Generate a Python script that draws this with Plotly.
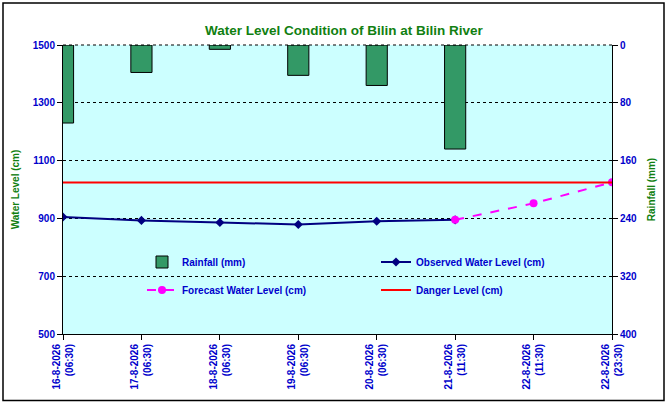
import plotly.graph_objects as go

# station data
dates = ["16-8-2026<br>(06:30)", "17-8-2026<br>(06:30)", "18-8-2026<br>(06:30)",
         "19-8-2026<br>(06:30)", "20-8-2026<br>(06:30)", "21-8-2026<br>(11:30)",
         "22-8-2026<br>(11:30)", "22-8-2026<br>(23:30)"]
rainfall = [108, 38, 6, 42, 56, 144, None, None]
observed = [905, 893, 886, 879, 890, 895, None, None]
forecast = [None, None, None, None, None, 895, 952, 1025]
danger = [1024] * 8

blue = "#0000CC"
green = "#118011"
fnt = dict(family="Liberation Sans, Arial", size=10, color=blue, weight="bold")

fig = go.Figure()
fig.add_trace(go.Bar(x=dates, y=rainfall, name="Rainfall (mm)", yaxis="y2", width=0.27,
                     marker=dict(color="#339966", line=dict(color="black", width=1)),
                     legend="legend"))
fig.add_trace(go.Scatter(x=dates, y=observed, name="Observed Water Level (cm)", mode="lines+markers",
                         line=dict(color="#000080", width=2),
                         marker=dict(symbol="diamond", size=7, color="#000080"),
                         legend="legend2"))
fig.add_trace(go.Scatter(x=dates, y=forecast, name="Forecast Water Level (cm)", mode="lines+markers",
                         line=dict(color="#FF00FF", width=2, dash="dash"),
                         marker=dict(symbol="circle", size=8, color="#FF00FF"),
                         legend="legend3"))
fig.add_trace(go.Scatter(x=dates, y=danger, name="Danger Level (cm)", mode="lines",
                         line=dict(color="#FF0000", width=2), legend="legend4"))

leg = dict(font=fnt, bgcolor="rgba(0,0,0,0)", yanchor="middle", xanchor="left")
W, H, L, T = 549, 289, 63, 45


def px(xp, yp):
    return (xp - L) / W, (T + H - yp) / H


for name, (lx, ly) in {"legend": (142, 262), "legend2": (376, 262),
                       "legend3": (142, 290), "legend4": (376, 290)}.items():
    x, y = px(lx, ly)
    fig.layout[name] = dict(leg, x=x, y=y)

fx0, fy1 = px(3, 3)
fx1, fy0 = px(664, 400.5)
fig.add_shape(type="rect", xref="paper", yref="paper", x0=fx0, x1=fx1, y0=fy0, y1=fy1,
              line=dict(color="black", width=1.5), layer="below")
fig.add_shape(type="line", xref="paper", yref="paper", x0=0, x1=1, y0=1, y1=1,
              line=dict(color="black", width=1, dash="dot"))

tfont = dict(family="Liberation Sans, Arial", size=10, color=green, weight="bold")
fig.update_layout(
    width=669, height=404,
    margin=dict(l=L, r=669 - L - W, t=T, b=404 - T - H, autoexpand=False),
    paper_bgcolor="white", plot_bgcolor="#CCFFFF",
    title=dict(text="Water Level Condition of Bilin at Bilin River", x=0.514, xanchor="center",
               y=0.925, yanchor="middle",
               font=dict(family="Liberation Sans, Arial", size=13.5, color=green, weight="bold")),
    showlegend=True,
    xaxis=dict(type="category", range=[0, 7], tickangle=-90, tickfont=fnt, showgrid=False,
               showline=True, linecolor="black", linewidth=1, ticks="outside", ticklen=5,
               tickcolor="black", automargin=False),
    yaxis=dict(range=[500, 1500], tick0=500, dtick=200, tickfont=fnt, showgrid=True, gridcolor="black",
               griddash="dot", gridwidth=1, showline=True, linecolor="black", linewidth=1,
               ticks="outside", ticklen=5, tickcolor="black", zeroline=False, automargin=False,
               title=dict(text="Water Level (cm)", standoff=11, font=tfont)),
    yaxis2=dict(range=[400, 0], dtick=80, overlaying="y", side="right", tickfont=fnt, showgrid=False,
                showline=True, linecolor="black", linewidth=1, ticks="outside", ticklen=5,
                tickcolor="black", zeroline=False, automargin=False,
                title=dict(text="Rainfall (mm)", standoff=11, font=tfont)),
)

# drop the browser's default page margin so the figure sits at 0,0
fig.write_html("out.html", config={"displayModeBar": False},
               post_script="document.body.style.margin='0';")
